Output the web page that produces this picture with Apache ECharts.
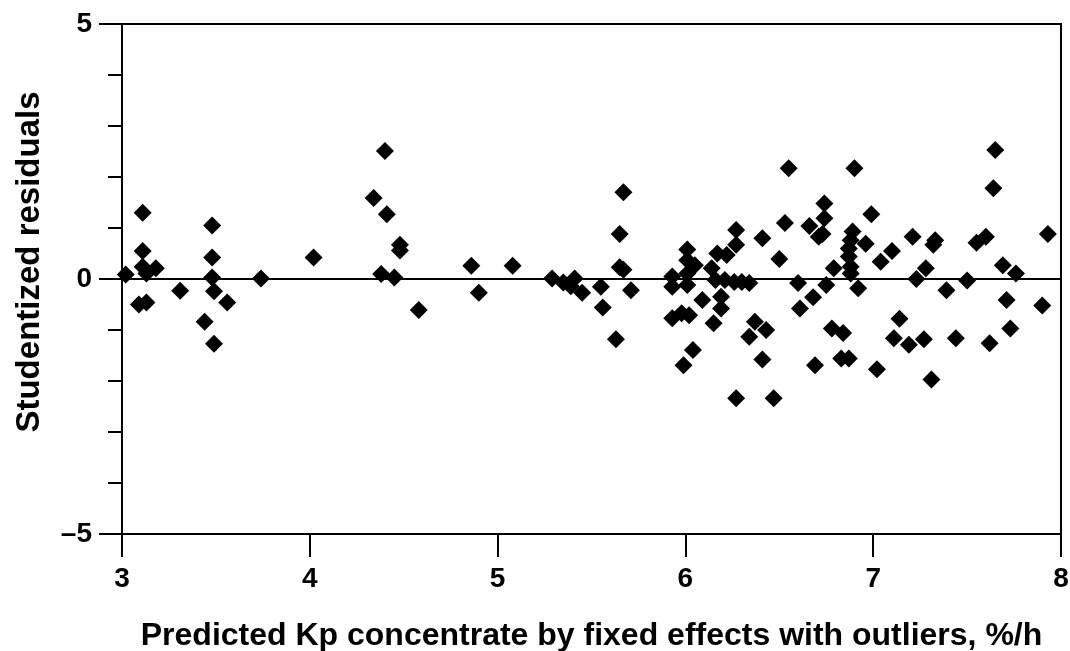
<!DOCTYPE html>
<html>
<head>
<meta charset="utf-8">
<title>Studentized residuals</title>
<script src="https://cdn.jsdelivr.net/npm/echarts@6/dist/echarts.min.js"></script>
<style>
  html, body { margin: 0; padding: 0; background: #fff; }
  #chart { width: 1070px; height: 651px; }
</style>
</head>
<body>
<div id="chart"></div>
<script>
// predicted Kp (x) and studentized residual (y)
var predicted = [
  3.02, 3.11, 3.11, 3.11, 3.13, 3.18, 3.09, 3.13, 3.31, 3.48, 3.48, 3.48, 3.49,
  3.56, 3.44, 3.49, 3.74, 4.02, 4.34, 4.40, 4.41, 4.48, 4.48, 4.38, 4.45, 4.58,
  4.86, 4.90, 5.08, 5.29, 5.35, 5.39, 5.41, 5.45, 5.55, 5.56, 5.63, 5.67, 5.65,
  5.65, 5.67, 5.71,
  5.93, 5.93, 5.93, 5.98, 6.02, 5.99, 6.04, 6.01, 6.01, 6.05, 6.01, 6.01, 6.09,
  6.14, 6.17, 6.22, 6.27, 6.27, 6.15, 6.19, 6.19, 6.16, 6.21, 6.26, 6.30, 6.34,
  6.27, 6.41, 6.50, 6.53, 6.55, 6.37, 6.43, 6.34, 6.41, 6.47, 6.60, 6.68, 6.61,
  6.69, 6.75, 6.79, 6.74, 6.74, 6.66, 6.71, 6.73, 6.78, 6.84, 6.83, 6.87,
  6.90, 6.99, 6.89, 6.88, 6.87, 6.87, 6.88, 6.88, 6.96, 6.92, 7.10, 7.04, 7.21,
  7.33, 7.32, 7.28, 7.23, 7.39, 7.50, 7.55, 7.60, 7.65, 7.64, 7.69, 7.76, 7.93,
  7.71, 7.90, 7.73, 7.62, 7.44, 7.31, 7.27, 7.19, 7.11, 7.14, 7.02
];
var residuals = [
  0.09, 1.30, 0.55, 0.24, 0.11, 0.21, -0.50, -0.46, -0.23, 1.05, 0.42, 0.03, -0.24,
  -0.46, -0.84, -1.27, 0.01, 0.42, 1.59, 2.51, 1.27, 0.67, 0.56, 0.10, 0.03, -0.61,
  0.26, -0.27, 0.26, 0.01, -0.07, -0.14, 0.01, -0.27, -0.15, -0.56, -1.18, 1.70, 0.88,
  0.23, 0.18, -0.22,
  0.05, -0.15, -0.77, -0.67, -0.71, -1.69, -1.39, 0.58, 0.37, 0.27, 0.11, -0.12, -0.41,
  0.21, 0.50, 0.47, 0.96, 0.67, -0.87, -0.58, -0.35, -0.02, -0.02, -0.06, -0.06, -0.08,
  -2.34, 0.80, 0.39, 1.10, 2.17, -0.84, -1.00, -1.13, -1.58, -2.34, -0.08, -0.36, -0.58,
  -1.69, -0.12, 0.21, 1.48, 1.19, 1.04, 0.83, 0.88, -0.97, -1.06, -1.56, -1.56,
  2.17, 1.27, 0.93, 0.76, 0.60, 0.44, 0.24, 0.11, 0.69, -0.18, 0.55, 0.34, 0.83,
  0.76, 0.67, 0.21, 0.00, -0.22, -0.03, 0.71, 0.83, 2.53, 1.78, 0.27, 0.11, 0.88,
  -0.41, -0.52, -0.97, -1.26, -1.16, -1.97, -1.18, -1.29, -1.16, -0.78, -1.77
];
var yLabelValues = [-5, 0, 5];

var points = predicted.map(function (x, i) {
  return [x, residuals[i]];
});

var FONT = "'Liberation Sans', Arial, sans-serif";
var chart = echarts.init(document.getElementById("chart"));

chart.setOption({
  animation: false,
  backgroundColor: "#fff",
  grid: {
    left: 122,
    right: 9,
    top: 24,
    bottom: 117,
    outerBoundsMode: "none",
    containLabel: false,
    show: true,
    borderColor: "#000",
    borderWidth: 2,
  },
  xAxis: {
    type: "value",
    min: 3,
    max: 8,
    interval: 1,
    name: "Predicted Kp concentrate by fixed effects with outliers, %/h",
    nameLocation: "middle",
    nameGap: 86,
    nameTextStyle: { fontFamily: FONT, fontWeight: "bold", fontSize: 32, color: "#000" },
    axisLine: { onZero: false, lineStyle: { color: "#000", width: 2 } },
    axisTick: { length: 23, lineStyle: { color: "#000", width: 2 } },
    axisLabel: { margin: 31, fontFamily: FONT, fontWeight: "bold", fontSize: 28, color: "#000" },
    splitLine: { show: false },
  },
  yAxis: [
    {
      type: "value",
      min: -5,
      max: 5,
      interval: 5,
      name: "Studentized residuals",
      nameLocation: "middle",
      nameGap: 76,
      nameTextStyle: {
        fontFamily: FONT,
        fontWeight: "bold",
        fontSize: 33,
        color: "#000",
        padding: [0, 0, 0, 34],
      },
      axisLine: { onZero: false, lineStyle: { color: "#000", width: 2 } },
      axisTick: { length: 23, lineStyle: { color: "#000", width: 2 } },
      axisLabel: {
        margin: 30,
        fontFamily: FONT,
        fontWeight: "bold",
        fontSize: 28,
        color: "#000",
        formatter: function (v) {
          if (yLabelValues.indexOf(v) < 0) return "";
          return v < 0 ? "\u2013" + Math.abs(v) : String(v);
        },
      },
      splitLine: { show: false },
    },
    {
      // minor ticks every unit
      type: "value",
      min: -5,
      max: 5,
      interval: 1,
      position: "left",
      axisLine: { show: false },
      axisTick: { length: 14, lineStyle: { color: "#000", width: 2 } },
      axisLabel: { show: false },
      splitLine: { show: false },
    },
  ],
  series: [
    {
      type: "scatter",
      symbol: "diamond",
      symbolSize: 18,
      itemStyle: { color: "#000", opacity: 1 },
      data: points,
      markLine: {
        silent: true,
        symbol: "none",
        label: { show: false },
        lineStyle: { color: "#000", width: 2, type: "solid" },
        data: [{ yAxis: 0 }],
      },
    },
  ],
});
</script>
</body>
</html>
